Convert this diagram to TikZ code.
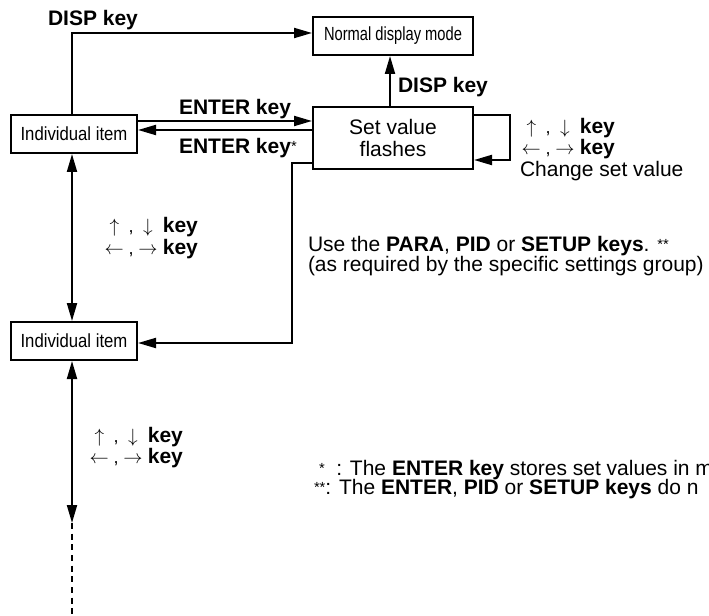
\documentclass[tikz,border=0pt]{standalone}
\usepackage{fontspec}
\setmainfont{Liberation Sans}
\newfontfamily\condA[FakeStretch=0.773]{Liberation Sans}
\newfontfamily\condB[FakeStretch=0.88]{Liberation Sans}
\usetikzlibrary{arrows.meta}
\newcommand\mainsz{\fontsize{15.75}{16.5}\selectfont}
\newcommand\astk{{\fontsize{11}{11}\selectfont\raisebox{1.5pt}{*}}}
\newcommand\arsz{\fontsize{13.5}{14}\selectfont}
\newcommand\udline{{\arsz\makebox[17pt][c]{$\uparrow$}\,,\,\makebox[17pt][c]{$\downarrow$}}\,\textbf{key}}
\newcommand\lrline{{\arsz\makebox[17pt][c]{$\leftarrow$}\,,\,\makebox[17pt][c]{$\rightarrow$}}\,\textbf{key}}
\begin{document}
\begin{tikzpicture}[x=0.75pt,y=-0.75pt, line width=1.5pt,
  >={Triangle[length=13.5pt,width=7.5pt]},
  box/.style={draw, line width=1.5pt, inner sep=0pt},
  lbl/.style={inner sep=0pt, anchor=base west, font=\mainsz}]
\useasboundingbox (0,0) rectangle (709,616);
\clip (0,0) rectangle (709,616);

% boxes
\node[box, minimum width=120pt, minimum height=28.5pt, font=\condA\fontsize{14.25}{15}\selectfont] (normal) at (393,36) {Normal display mode};
\node[box, minimum width=120pt, minimum height=46.5pt, align=center, font=\mainsz] (set) at (393,138) {Set value\\flashes};
\node[box, minimum width=94.5pt, minimum height=28.5pt, font=\condB\fontsize{14.25}{15}\selectfont] (ind1) at (74,134) {Individual item};
\node[box, minimum width=94.5pt, minimum height=28.5pt, font=\condB\fontsize{14.25}{15}\selectfont] (ind2) at (74,341) {Individual item};

% DISP from individual item to normal display
\coordinate (dtop) at (72,33);
\draw[->] (ind1.north -| dtop) -- (dtop) -- (normal.west |- dtop);
\node[lbl] (ldisp1) at (47,26) {\textbf{DISP key}};

% ENTER arrows
\coordinate (en1) at (0,121);
\coordinate (en2) at (0,130);
\draw[->] (ind1.east |- en1) -- (set.west |- en1);
\draw[->] (set.west |- en2) -- (ind1.east |- en2);
\node[lbl] (lenter1) at (178,115) {\textbf{ENTER key}};
\node[lbl] (lenter2) at (178,154) {\textbf{ENTER key}\astk};

% DISP from set value to normal
\coordinate (dx) at (390,0);
\draw[->] (set.north -| dx) -- (normal.south -| dx);
\node[lbl] (ldisp2) at (397,93) {\textbf{DISP key}};

% self loop
\coordinate (l1) at (510,115);
\coordinate (l2) at (510,160);
\draw[->] (set.east |- l1) -- (l1) -- (l2) -- (set.east |- l2);
\node[lbl] (lr1) at (519,134) {\udline};
\node[lbl] (lr2) at (519,155) {\lrline};
\node[lbl] (lr3) at (519,177) {Change set value};

% set value to second individual item
\coordinate (b1) at (292,163);
\coordinate (b2) at (292,343);
\draw[->] (set.west |- b1) -- (b1) -- (b2) -- (ind2.east |- b2);
\node[lbl] (use1) at (307,252) {Use the \textbf{PARA}, \textbf{PID} or \textbf{SETUP keys}. \astk\astk};
\node[lbl] (use2) at (307,272) {(as required by the specific settings group)};

% vertical between individual items
\coordinate (vx) at (72,0);
\draw[<->] (ind1.south -| vx) -- (ind2.north -| vx);
\node[lbl] (ml1) at (102,233) {\udline};
\node[lbl] (ml2) at (102,255) {\lrline};

% lower vertical
\coordinate (vend) at (72,523);
\coordinate (vbot) at (72,620);
\draw[<->] (ind2.south -| vx) -- (vend);
\draw[dash pattern=on 4.5pt off 3.5pt] (vend) -- (vbot);
\node[lbl] (bl1) at (87,442) {\udline};
\node[lbl] (bl2) at (87,463) {\lrline};

% footnotes
\node[lbl] (fn1) at (318,475) {\astk\ \ : The \textbf{ENTER key} stores set values in m};
\node[lbl] (fn2) at (313,494) {\astk\astk: The \textbf{ENTER}, \textbf{PID} or \textbf{SETUP keys} do n};
\end{tikzpicture}
\end{document}
